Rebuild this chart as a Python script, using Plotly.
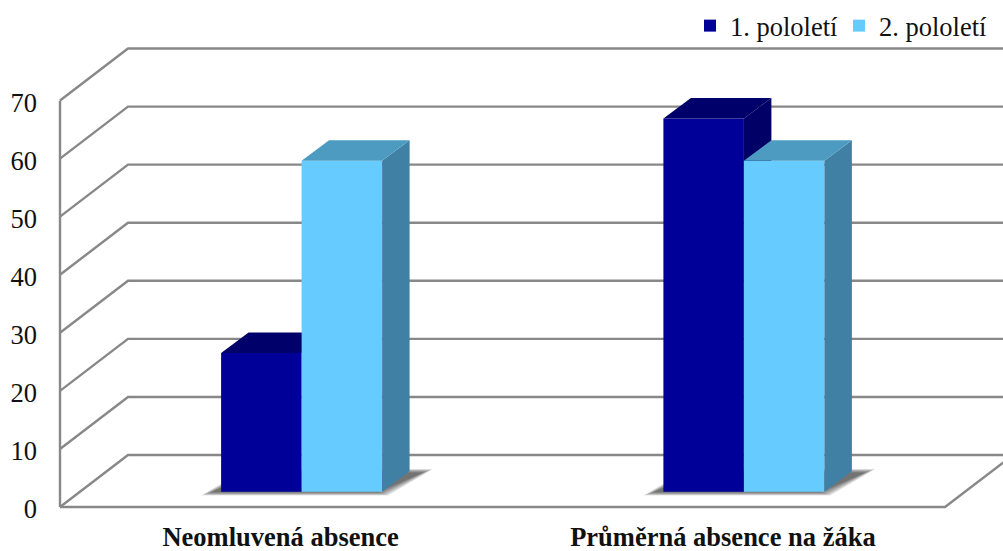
import plotly.graph_objects as go

# ---- data ----
categories = ["Neomluvená absence", "Průměrná absence na žáka"]
category_positions = [0, 1]
series_names = ["1. pololetí", "2. pololetí"]
values_h1 = [23.9, 64.3]
values_h2 = [57.0, 57.0]
y_ticks = [0, 10, 20, 30, 40, 50, 60, 70]

# ---- styles ----
W, H = 1003, 551
FONT = "Liberation Serif"
GRID = "#888888"
C1 = ("#000099", "#00006b", "#000066")   # front, top, side
C2 = ("#66ccff", "#4d9bc1", "#4080a5")

# ---- scales (pixels per data unit) ----
PX_X = 442.3      # px per category step
PX_Y = 5.807      # px per value unit
CENTER0 = 301.6   # pixel of first category centre
ZERO_WALL = 507.0 # pixel of value 0 on the front plane
ZERO_BAR = 491.8  # pixel of value 0 on the plane of the bars
def xpx(p):
    return (p - CENTER0) / PX_X
BAR_W = 80.5 / PX_X
B_DX, B_DY = 27.5 / PX_X, 20.5 / PX_Y      # bar depth
W_DX, W_DY = 68.0 / PX_X, 52.0 / PX_Y      # wall depth
LEFT, RIGHT = xpx(60), xpx(945)
LABEL_SHIFT = 21 / PX_X                    # labels sit on the front plane

fig = go.Figure()

# ---- the value axis itself (gives the axis its subplot) ----
fig.add_trace(go.Scatter(x=[LEFT] * len(y_ticks), y=y_ticks, xaxis="x", yaxis="y", mode="lines",
                         line=dict(color=GRID, width=2.4), hoverinfo="skip", showlegend=False))

# ---- walls and floor (y2) ----
grid_x, grid_y = [], []
for t in y_ticks:
    grid_x += [LEFT, LEFT + W_DX, RIGHT + W_DX, None]
    grid_y += [t, t + W_DY, t + W_DY, None]
grid_x += [LEFT, RIGHT, RIGHT + W_DX]
grid_y += [0, 0, W_DY]
fig.add_trace(go.Scatter(x=grid_x, y=grid_y, xaxis="x", yaxis="y2", mode="lines",
                         line=dict(color=GRID, width=2.4), hoverinfo="skip", showlegend=False))

# ---- soft bar shadows on the floor ----
for c in category_positions:
    for grow in [8, 6.5, 5, 3.5, 2, 0.5, -1, -2.5]:
        gx, gy = grow / PX_X, grow / PX_Y
        x0, x1 = c - BAR_W - 12 / PX_X - gx, c + BAR_W - 2 / PX_X + gx
        y0 = (ZERO_WALL - ZERO_BAR - 1.0) / PX_Y - gy * 0.35
        dx = 45 / PX_X
        dy = 21 / PX_Y + gy * 0.7
        fig.add_trace(go.Scatter(
            x=[x0, x1, x1 + dx, x0 + dx, x0], y=[y0, y0, y0 + dy, y0 + dy, y0],
            xaxis="x", yaxis="y2", mode="lines", fill="toself",
            fillcolor="rgba(30,30,30,0.11)", line=dict(width=0),
            hoverinfo="skip", showlegend=False))

# ---- bars ----
def add_bar(values, name, colors, offset, yaxis, legend):
    fig.add_trace(go.Bar(x=category_positions, y=values, name=name, width=BAR_W, offset=offset,
                         marker=dict(color=colors[0], line=dict(width=0)),
                         xaxis="x", yaxis=yaxis, legend=legend, hoverinfo="skip"))
    for c, v in zip(category_positions, values):
        l, r = c + offset, c + offset + BAR_W
        fig.add_trace(go.Scatter(x=[r, r + B_DX, r + B_DX, r, r], y=[0, B_DY, v + B_DY, v, 0],
                                 xaxis="x", yaxis=yaxis, mode="lines", fill="toself",
                                 fillcolor=colors[2], line=dict(width=0),
                                 hoverinfo="skip", showlegend=False))
        fig.add_trace(go.Scatter(x=[l, r, r + B_DX, l + B_DX, l], y=[v, v, v + B_DY, v + B_DY, v],
                                 xaxis="x", yaxis=yaxis, mode="lines", fill="toself",
                                 fillcolor=colors[1], line=dict(width=0),
                                 hoverinfo="skip", showlegend=False))

add_bar(values_h1, series_names[0], C1, -BAR_W, "y3", "legend")
add_bar(values_h2, series_names[1], C2, 0, "y4", "legend2")

def full_range(zero_px):
    return [-(H - zero_px) / PX_Y, zero_px / PX_Y]

hidden = dict(visible=False, domain=[0, 1], anchor="x", fixedrange=True, automargin=False)
legend_style = dict(orientation="h", bgcolor="rgba(0,0,0,0)", yanchor="middle", y=0.953,
                    xanchor="left", font=dict(family=FONT, size=26.5, color="#111111"),
                    itemclick=False, itemdoubleclick=False)

fig.update_layout(
    width=W, height=H, margin=dict(l=0, r=0, t=0, b=0, pad=0), template="none",
    paper_bgcolor="white", plot_bgcolor="rgba(0,0,0,0)", showlegend=True,
    xaxis=dict(domain=[0, 1], range=[xpx(0), xpx(W)], anchor="y", tickmode="array",
               tickvals=[c - LABEL_SHIFT for c in category_positions],
               ticktext=[f"<b>{c}</b>" for c in categories],
               tickfont=dict(family=FONT, size=26.5, color="#111111"), showgrid=False, zeroline=False,
               showline=False, ticks="", ticklabelstandoff=11, fixedrange=True, automargin=False),
    yaxis=dict(domain=[(H - ZERO_WALL) / H, (H - ZERO_WALL + 70 * PX_Y) / H], range=[0, 70],
               anchor="free", position=60 / W, tickmode="array", tickvals=y_ticks,
               tickfont=dict(family=FONT, size=26.5, color="#111111"), showgrid=False, zeroline=False,
               showline=False, ticks="", ticklabelstandoff=23, ticklabelshift=2,
               fixedrange=True, automargin=False),
    yaxis2=dict(range=full_range(ZERO_WALL), **hidden),
    yaxis3=dict(range=full_range(ZERO_BAR), **hidden),
    yaxis4=dict(range=full_range(ZERO_BAR), **hidden),
    legend=dict(x=690 / W, **legend_style),
    legend2=dict(x=839 / W, **legend_style),
)

fig.write_html("out.html", config=dict(displayModeBar=False),
               post_script="document.body.style.margin='0';document.body.style.overflow='hidden';")
